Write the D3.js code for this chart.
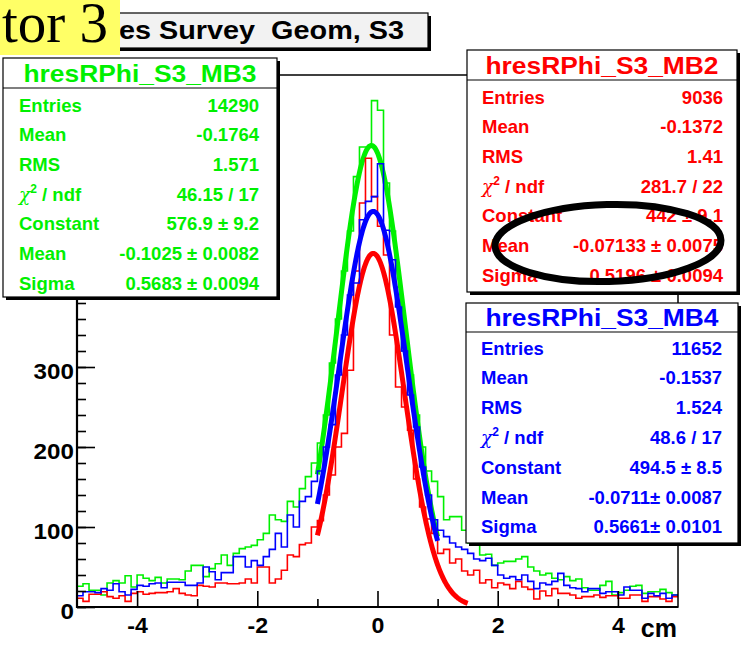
<!DOCTYPE html>
<html>
<head>
<meta charset="utf-8" />
<script src="https://d3js.org/d3.v7.min.js"></script>
<style>
  body { margin: 0; background: #fff; }
  svg { display: block; }
  svg text { font-family: "Liberation Sans", Arial, Helvetica, sans-serif; }
</style>
</head>
<body>
<svg id="chart" width="751" height="652"></svg>
<script>
// ---- data ----
var nBins = 100, xLo = -5, xHi = 5;
var binLow = d3.range(nBins).map(function (i) { return xLo + i * (xHi - xLo) / nBins; });

// MB3 (green)
var mb3Counts = [26, 29, 21, 21, 15, 30, 33, 30, 39, 25,
  40, 36, 33, 37, 30, 35, 35, 34, 45, 52,
  52, 38, 48, 54, 65, 52, 67, 73, 75, 77,
  84, 92, 115, 109, 107, 132, 125, 148, 163, 180,
  205, 240, 305, 360, 420, 470, 538, 575, 575, 633,
  621, 530, 470, 400, 320, 290, 240, 200, 170, 157,
  138, 109, 113, 113, 96, 80, 80, 65, 66, 52,
  55, 57, 57, 60, 63, 50, 45, 40, 42, 36,
  34, 38, 33, 35, 24, 21, 21, 27, 32, 15,
  18, 21, 26, 27, 17, 19, 19, 22, 18, 15];
// MB2 (red)
var mb2Counts = [11, 7, 16, 16, 19, 13, 11, 14, 7, 17,
  19, 16, 17, 18, 18, 19, 23, 17, 15, 14,
  27, 26, 25, 30, 30, 29, 29, 30, 35, 30,
  50, 50, 30, 35, 46, 65, 63, 78, 80, 100,
  108, 140, 165, 200, 217, 296, 420, 505, 561, 513,
  476, 440, 340, 275, 250, 221, 160, 125, 110, 92,
  67, 72, 55, 60, 45, 40, 46, 30, 34, 24,
  30, 28, 23, 32, 25, 22, 10, 20, 14, 23,
  17, 17, 15, 11, 13, 13, 15, 12, 14, 14,
  11, 11, 15, 15, 7, 13, 13, 10, 7, 13];
// MB4 (blue)
var mb4Counts = [14, 19, 19, 18, 23, 21, 29, 19, 15, 22,
  27, 26, 29, 30, 24, 31, 31, 31, 27, 27,
  30, 50, 44, 34, 43, 43, 63, 63, 50, 58,
  52, 63, 72, 92, 75, 115, 100, 132, 138, 157,
  170, 200, 228, 290, 340, 390, 405, 484, 507, 513,
  554, 471, 434, 375, 320, 265, 225, 175, 140, 109,
  96, 88, 80, 75, 72, 67, 60, 58, 61, 52,
  40, 36, 38, 34, 40, 32, 23, 30, 28, 32,
  42, 27, 24, 23, 19, 23, 23, 17, 19, 19,
  15, 25, 21, 21, 11, 17, 14, 17, 11, 15];

// gaussian fits: constant, mean, sigma and fit range
var mb3Fit = [576.9, -0.1025, 0.5683], mb3FitRange = [-1, 1];
var mb2Fit = [442, -0.07133, 0.5196], mb2FitRange = [-1, 1.5];
var mb4Fit = [494.5, -0.0711, 0.5661], mb4FitRange = [-1, 1];

var statLabels = ["Entries", "Mean", "RMS", "chi2", "Constant", "Mean", "Sigma"];
var mb3Stats = ["14290", "-0.1764", "1.571", "46.15 / 17", "576.9 \u00b1 9.2", "-0.1025 \u00b1 0.0082", "0.5683 \u00b1 0.0094"];
var mb2Stats = ["9036", "-0.1372", "1.41", "281.7 / 22", "442 \u00b1 9.1", "-0.07133 \u00b1 0.0075", "0.5196 \u00b1 0.0094"];
var mb4Stats = ["11652", "-0.1537", "1.524", "48.6 / 17", "494.5 \u00b1 8.5", "-0.0711\u00b1 0.0087", "0.5661\u00b1 0.0101"];

var yLabelTicks = [0, 100, 200, 300];
var yMajorTicks = [0, 100, 200, 300, 400, 500, 600];
var xMajorTicks = [-4, -2, 0, 2, 4];
var xMinorTicks = [-3, -1, 1, 3];

// ---- drawing ----
var svg = d3.select("#chart");
var green = "#00f000", red = "#ff0000", blue = "#0000ff";

var x = d3.scaleLinear().domain([xLo, xHi]).range([77, 678]);
var y = d3.scaleLinear().domain([0, 665]).range([607, 75]);

svg.append("defs").append("clipPath").attr("id", "frameClip")
  .append("rect").attr("x", 77).attr("y", 75).attr("width", 601).attr("height", 532);

var plot = svg.append("g").attr("clip-path", "url(#frameClip)");

var histLine = d3.line()
  .x(function (d) { return x(d[0]); })
  .y(function (d) { return y(d[1]); })
  .curve(d3.curveStepAfter);

var fitLine = d3.line()
  .x(function (d) { return x(d[0]); })
  .y(function (d) { return y(d[1]); });

function drawSeries(counts, fit, range, color) {
  var pts = counts.map(function (c, i) { return [binLow[i], c]; });
  pts.push([xHi, counts[counts.length - 1]]);
  plot.append("path").attr("d", histLine(pts))
    .attr("fill", "none").attr("stroke", color).attr("stroke-width", 1.6);
  var curve = d3.range(range[0], range[1] + 1e-9, 0.01).map(function (v) {
    return [v, fit[0] * Math.exp(-0.5 * Math.pow((v - fit[1]) / fit[2], 2))];
  });
  plot.append("path").attr("d", fitLine(curve))
    .attr("fill", "none").attr("stroke", color).attr("stroke-width", 5);
}
drawSeries(mb3Counts, mb3Fit, mb3FitRange, green);
drawSeries(mb2Counts, mb2Fit, mb2FitRange, red);
drawSeries(mb4Counts, mb4Fit, mb4FitRange, blue);

// axes
function stretch(sel, k) {
  sel.each(function () {
    var len = this.getComputedTextLength();
    d3.select(this).attr("textLength", len * k).attr("lengthAdjust", "spacingAndGlyphs");
  });
}

var yAxisMinor = svg.append("g").attr("transform", "translate(77,0)")
  .call(d3.axisLeft(y).tickValues(d3.range(0, 661, 20)).tickSize(-9).tickFormat(""));
var yAxisMajor = svg.append("g").attr("transform", "translate(77,0)")
  .call(d3.axisLeft(y).tickValues(yMajorTicks).tickSize(-18).tickFormat(""));
var yAxis = svg.append("g").attr("transform", "translate(77,0)")
  .call(d3.axisLeft(y).tickValues(yLabelTicks).tickSize(0).tickPadding(3)
    .tickFormat(function (d) { return String(d); }));
var xAxisMinor = svg.append("g").attr("transform", "translate(0,607)")
  .call(d3.axisBottom(x).tickValues(xMinorTicks).tickSize(-8).tickFormat(""));
var xAxis = svg.append("g").attr("transform", "translate(0,607)")
  .call(d3.axisBottom(x).tickValues(xMajorTicks).tickSize(-16).tickPadding(10)
    .tickFormat(function (d) { return String(d); }));

[yAxisMinor, yAxisMajor, yAxis, xAxisMinor, xAxis].forEach(function (g) {
  g.select(".domain").remove();
  g.selectAll("line").attr("stroke", "#000").attr("stroke-width", 1.6);
});
[yAxis, xAxis].forEach(function (g) {
  g.selectAll("text").attr("font-size", 22).attr("font-weight", "bold").attr("fill", "#000");
});
yAxis.selectAll("text").attr("dy", "0.5em");
stretch(yAxis.selectAll("text"), 1.1);
stretch(xAxis.selectAll("text"), 1.05);

// frame
svg.append("rect").attr("x", 77).attr("y", 75).attr("width", 601).attr("height", 532)
  .attr("fill", "none").attr("stroke", "#000").attr("stroke-width", 1.5);
svg.append("line").attr("x1", 77).attr("x2", 77).attr("y1", 75).attr("y2", 608)
  .attr("stroke", "#000").attr("stroke-width", 2.2);
svg.append("line").attr("x1", 76).attr("x2", 678).attr("y1", 607).attr("y2", 607)
  .attr("stroke", "#000").attr("stroke-width", 2.2);

svg.append("text").attr("x", 677).attr("y", 637).attr("text-anchor", "end")
  .attr("font-size", 25).attr("font-weight", "bold").text("cm");

// stats boxes
function statsBox(box, title, values, color) {
  var g = svg.append("g");
  g.append("rect").attr("x", box.x + 3).attr("y", box.y + 3).attr("width", box.w).attr("height", box.h)
    .attr("fill", "#000");
  g.append("rect").attr("x", box.x).attr("y", box.y).attr("width", box.w).attr("height", box.h)
    .attr("fill", "#fff").attr("stroke", "#000").attr("stroke-width", 1.2);
  g.append("line").attr("x1", box.x).attr("x2", box.x + box.w)
    .attr("y1", box.sep).attr("y2", box.sep).attr("stroke", "#000").attr("stroke-width", 1.2);
  g.append("text").attr("x", box.x + box.w / 2).attr("y", box.titleY + 8.5)
    .attr("text-anchor", "middle").attr("font-size", 24).attr("font-weight", "bold")
    .attr("fill", color).attr("textLength", 233).attr("lengthAdjust", "spacingAndGlyphs")
    .text(title);
  statLabels.forEach(function (lab, i) {
    var cy = box.row0 + i * box.step + 6.5;
    var t = g.append("text").attr("x", box.lx).attr("y", cy)
      .attr("font-size", 18.5).attr("font-weight", "bold").attr("fill", color);
    if (lab === "chi2") {
      t.append("tspan").style("font-weight", "normal").style("font-family", "'DejaVu Serif', serif")
        .style("font-style", "italic").text("\u03c7");
      t.append("tspan").attr("font-size", 12).attr("dy", -8).text("2");
      t.append("tspan").attr("dy", 8).text(" / ndf");
    } else {
      t.text(lab);
    }
    g.append("text").attr("x", box.rx).attr("y", cy).attr("text-anchor", "end")
      .attr("font-size", 18.5).attr("font-weight", "bold").attr("fill", color)
      .text(values[i]);
  });
}

statsBox({ x: 3, y: 58, w: 274, h: 239, sep: 88, titleY: 73, row0: 105, step: 29.7, lx: 19, rx: 259 },
  "hresRPhi_S3_MB3", mb3Stats, green);
statsBox({ x: 467, y: 50, w: 270, h: 242, sep: 80, titleY: 65, row0: 97, step: 29.7, lx: 482, rx: 723 },
  "hresRPhi_S3_MB2", mb2Stats, red);
statsBox({ x: 466, y: 303, w: 272, h: 240, sep: 332, titleY: 317, row0: 348, step: 29.8, lx: 481, rx: 722 },
  "hresRPhi_S3_MB4", mb4Stats, blue);

// title box
svg.append("rect").attr("x", 120).attr("y", 16).attr("width", 311).attr("height", 35).attr("fill", "#000");
svg.append("rect").attr("x", 117).attr("y", 13).attr("width", 311).attr("height", 35)
  .attr("fill", "#f2f2f2").attr("stroke", "#000").attr("stroke-width", 1.2);
svg.append("text").attr("x", 404).attr("y", 39).attr("text-anchor", "end")
  .attr("font-size", 25).attr("font-weight", "bold").attr("fill", "#000")
  .attr("textLength", 285).attr("lengthAdjust", "spacingAndGlyphs")
  .text("es Survey\u00a0\u00a0Geom, S3");

// yellow label
svg.append("rect").attr("x", 0).attr("y", 0).attr("width", 120).attr("height", 55).attr("fill", "#ffff66");
svg.append("text").attr("x", 2).attr("y", 42)
  .style("font-family", "'Liberation Serif', 'Times New Roman', serif")
  .attr("font-size", 57).attr("fill", "#000").text("tor 3");

// hand-drawn ellipse
svg.append("ellipse").attr("cx", 608).attr("cy", 243).attr("rx", 113).attr("ry", 38.5)
  .attr("transform", "rotate(-1.5,608,243)")
  .attr("fill", "none").attr("stroke", "#000").attr("stroke-width", 7);
</script>
</body>
</html>
